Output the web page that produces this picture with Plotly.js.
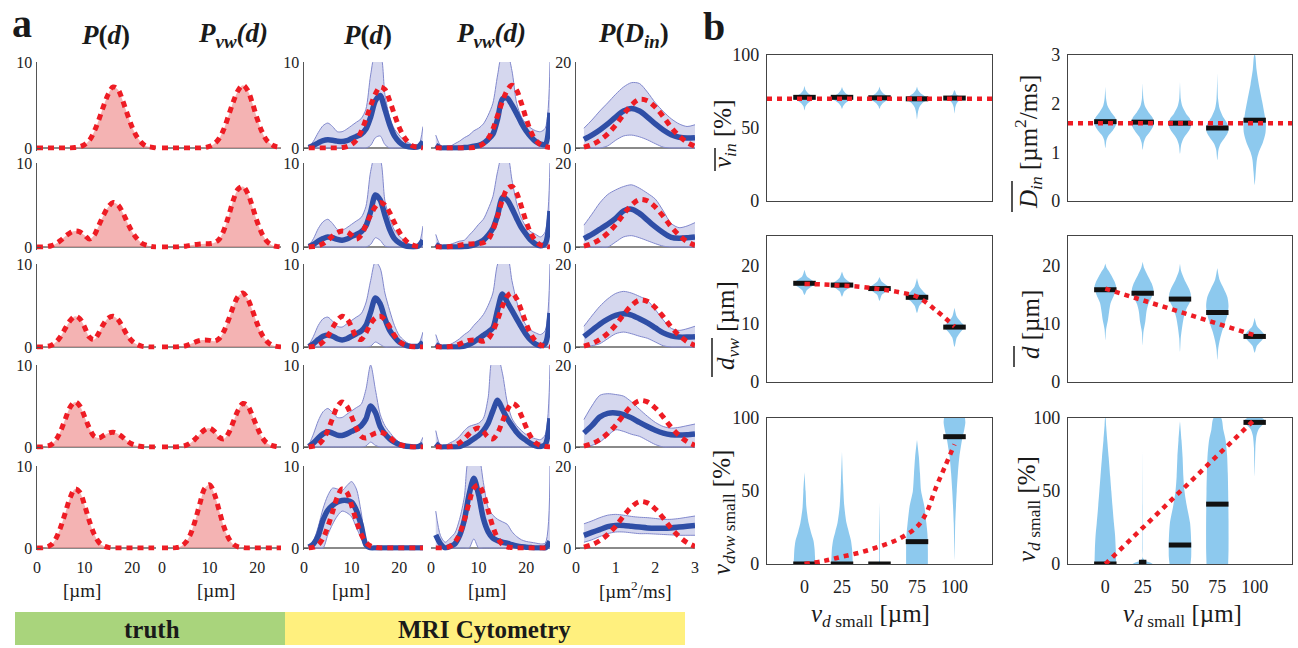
<!DOCTYPE html>
<html><head><meta charset="utf-8">
<script src="https://cdn.plot.ly/plotly-3.0.1.min.js"></script>
<style>html,body{margin:0;padding:0;background:#fff}#chart{width:1298px;height:648px}</style>
</head><body><div id="chart"></div>
<script>
// ======================= DATA =======================
// panel a: grids
const dTruth = [0,1,2,3,4,5,6,7,8,9,10,11,12,13,14,15,16,17,18,19,20,21,22,23,24,25];
const dMRI = [1,2,3,4,5,6,7,8,9,10,11,12,13,14,15,16,17,18,19,20,21,22,23,24,25];
const dDin = [0.2,0.4,0.6,0.8,1.0,1.2,1.4,1.6,1.8,2.0,2.2,2.4,2.6,2.8,3.0];

// truth P(d), rows 1..5 (d = 0..25)
const truthPd = [
 [0,0,0,0,0,0,0,0,0.05,0.15,0.4,0.9,1.9,3.3,4.9,6.3,7.1,6.8,5.5,3.9,2.4,1.3,0.6,0.2,0.1,0],
 [0,0,0.05,0.15,0.4,0.8,1.3,1.7,1.9,1.8,1.4,0.95,1.4,2.6,3.8,4.8,5.3,5.0,4.1,2.9,1.8,1.0,0.45,0.2,0.05,0],
 [0,0,0.05,0.2,0.6,1.3,2.3,3.2,3.7,3.4,2.4,1.2,0.9,1.7,2.8,3.5,3.7,3.3,2.4,1.4,0.7,0.3,0.1,0.03,0,0],
 [0,0,0.1,0.3,0.9,2.0,3.5,4.9,5.5,5.0,3.7,2.3,1.3,1.1,1.4,1.7,1.8,1.6,1.2,0.7,0.35,0.15,0.05,0,0,0],
 [0,0,0.1,0.4,1.2,2.6,4.4,6.2,7.2,6.8,5.2,3.3,1.7,0.7,0.25,0.08,0,0,0,0,0,0,0,0,0,0]
];
// truth Pvw(d)
const truthPvw = [
 [0,0,0,0,0,0,0,0,0,0.05,0.2,0.5,1.1,2.2,3.8,5.4,6.7,7.3,6.7,5.2,3.4,1.9,0.9,0.4,0.15,0.05],
 [0,0,0,0,0.05,0.1,0.2,0.3,0.35,0.4,0.4,0.5,0.9,2.0,3.7,5.6,6.9,7.2,6.4,4.8,3.0,1.6,0.7,0.25,0.08,0],
 [0,0,0,0,0.05,0.15,0.35,0.6,0.8,0.85,0.8,0.7,1.0,1.9,3.3,4.9,6.1,6.5,5.8,4.4,2.8,1.5,0.7,0.25,0.08,0],
 [0,0,0,0,0.05,0.2,0.5,1.0,1.6,2.1,2.3,1.9,1.2,1.0,1.7,3.1,4.5,5.3,5.0,3.8,2.4,1.2,0.5,0.2,0.05,0],
 [0,0,0,0.05,0.2,0.7,1.7,3.4,5.5,7.3,7.7,6.6,4.6,2.6,1.2,0.45,0.15,0.05,0,0,0,0,0,0,0,0]
];
// truth P(Din)
const truthDin = [0.2,0.8,1.8,3.3,5.3,7.8,10.0,11.3,11.0,9.5,7.3,4.8,2.8,1.3,0.4];

// MRI cytometry P(d): mean, upper, lower (d = 1..25)
const mriPdMean = [
 [0.05,0.3,0.6,0.85,0.95,0.9,0.8,0.75,0.85,1.1,1.35,1.6,2.2,3.6,5.5,6.1,4.5,2.7,1.4,0.7,0.3,0.15,0.1,0.15,0.75],
 [0.05,0.3,0.7,1.0,1.2,1.1,0.9,0.8,0.95,1.25,1.5,1.8,2.5,4.2,6.2,5.6,3.8,2.1,1.0,0.5,0.2,0.05,0,0.1,0.8],
 [0.05,0.4,0.9,1.3,1.45,1.3,1.0,0.85,1.0,1.3,1.6,1.9,2.6,4.2,5.9,5.2,3.4,2.0,1.2,0.6,0.3,0.1,0.05,0.1,0.6],
 [0.05,0.5,1.1,1.6,1.85,1.7,1.45,1.4,1.6,1.9,2.2,2.6,3.4,5.0,4.2,2.5,1.6,1.0,0.6,0.3,0.15,0.05,0,0.05,0.3],
 [0.1,0.5,1.5,3.4,4.6,5.2,5.6,5.8,5.8,5.6,4.6,2.8,0.4,0,0,0,0,0,0,0,0,0,0,0,0]
];
const mriPdUpper = [
 [0.1,0.8,1.8,2.6,2.9,2.5,1.9,1.9,2.2,2.6,3.0,3.4,4.5,8.5,11,11,6.2,3.6,2.2,1.5,0.9,0.6,0.3,0.2,2.5],
 [0.1,1.0,2.2,3.0,3.3,2.8,2.1,2.0,2.3,2.7,3.1,3.5,4.8,9,11,10.5,5.5,3.4,2.0,1.3,0.8,0.4,0.2,0.2,2.5],
 [0.2,1.3,2.6,3.4,3.6,3.1,2.5,2.4,2.8,3.2,3.6,4.0,5.3,8,10.3,9.5,6.5,4.4,2.6,1.4,0.8,0.4,0.2,0.3,1.8],
 [0.2,1.6,3.2,4.3,4.7,4.2,3.6,3.6,4.0,4.4,4.8,5.2,7.0,10,7.0,4.0,2.6,1.8,1.1,0.6,0.3,0.2,0.1,0.2,1.2],
 [0.1,0.9,2.6,4.8,6.4,7.3,7.2,7.0,7.6,8.1,7.2,4.4,0.9,0.1,0,0,0,0,0,0,0,0,0,0,0]
];
const mriPdLower = [
 [0,0,0,0,0,0,0,0,0,0,0,0,0,0.3,1.2,1.4,0.4,0,0,0,0,0,0,0,0],
 [0,0,0,0,0,0,0,0,0,0,0,0,0,0.3,1.1,0.8,0.1,0,0,0,0,0,0,0,0],
 [0,0,0,0,0,0,0,0,0,0,0,0,0,0.1,0.6,0.3,0,0,0,0,0,0,0,0,0],
 [0,0,0,0,0,0,0,0,0,0,0,0,0.1,0.6,0.2,0,0,0,0,0,0,0,0,0,0],
 [0,0,0,0,1.6,2.9,3.9,4.5,4.3,3.8,2.5,1.2,0,0,0,0,0,0,0,0,0,0,0,0,0]
];
// MRI cytometry Pvw(d)
const mriPvwMean = [
 [0.3,0,0,0,0,0,0.05,0.1,0.2,0.3,0.55,1.0,1.6,3.4,5.7,5.8,5.0,4.0,2.9,2.0,1.3,0.75,0.45,0.4,4.1],
 [0.3,0,0,0,0,0,0.05,0.1,0.25,0.5,0.8,1.4,2.2,3.8,5.9,5.6,4.6,3.4,2.3,1.5,0.8,0.35,0.15,0.4,4.3],
 [0.3,0,0,0,0,0,0.1,0.3,0.6,1.0,1.4,1.8,2.3,4.5,6.4,5.4,4.4,3.4,2.4,1.5,0.8,0.35,0.15,0.4,4.1],
 [0.4,0,0,0,0,0.05,0.3,0.6,1.0,1.4,2.0,2.9,4.4,5.7,4.6,3.5,2.6,1.8,1.2,0.8,0.4,0.15,0.05,0.3,3.5],
 [1.6,0.5,0,0.2,0.5,1.5,3.4,6.5,8.5,6.5,3.6,2.0,1.2,0.9,0.7,0.6,0.4,0.25,0.15,0.1,0.05,0,0,0,0.8]
];
const mriPvwUpper = [
 [1.5,0.3,0.1,0.2,0.5,0.8,1.2,1.5,2.0,2.3,2.8,3.8,5.2,8.5,11,11,9,5.2,3.6,2.8,2.3,2.0,1.9,2.3,10],
 [1.5,0.2,0.1,0.3,0.5,0.7,0.8,1.4,2.0,2.7,3.3,4.5,6.0,9,11,11,8,5.2,3.4,2.4,1.8,1.5,1.2,1.8,10],
 [1.5,0.2,0.1,0.3,0.6,1.0,1.5,1.9,2.6,3.2,3.9,5.0,6.5,10,11,11,8,5.5,3.7,2.6,2.0,1.7,1.5,2.0,10],
 [2.0,0.2,0.2,0.5,0.8,1.3,2.0,2.5,2.7,2.9,3.5,6,11,11,9,5.5,3.5,2.6,2.0,1.5,1.2,1.0,0.9,1.5,10],
 [4.5,1.5,0.7,1.2,1.8,3.5,6.2,11,11,11,8,4.9,4.0,3.5,3.2,2.9,2.0,1.4,1.0,0.8,0.7,0.6,0.5,0.6,10]
];
const mriPvwLower = [
 [0,0,0,0,0,0,0,0,0,0,0,0,0,0,0,0,0,0,0,0,0,0,0,0,0],
 [0,0,0,0,0,0,0,0,0,0,0,0,0,0,0,0,0,0,0,0,0,0,0,0,0],
 [0,0,0,0,0,0,0,0,0,0,0,0,0,0,0,0,0,0,0,0,0,0,0,0,0],
 [0,0,0,0,0,0,0,0,0,0,0,0,0,0,0,0,0,0,0,0,0,0,0,0,0],
 [0,0,0,0,0,0,0,0,1.1,0,0,0,0,0,0,0,0,0,0,0,0,0,0,0,0]
];
// MRI cytometry P(Din)
const mriDinMean = [
 [2.0,3.0,4.2,5.6,7.2,8.6,9.2,8.6,7.2,5.6,4.2,3.1,2.5,2.3,2.4],
 [2.0,3.0,4.2,5.4,6.8,8.6,9.0,8.0,6.4,4.8,3.4,2.3,2.1,2.2,2.4],
 [2.5,4.0,5.5,6.7,7.6,8.0,7.7,6.8,5.8,4.6,3.4,2.7,2.4,2.4,2.5],
 [3.4,5.2,7.3,8.2,8.3,7.9,7.1,6.0,5.0,4.1,3.4,3.0,2.9,3.0,3.2],
 [3.1,3.8,4.5,5.2,5.5,5.5,5.3,5.1,4.9,4.8,4.8,4.9,5.1,5.3,5.5]
];
const mriDinUpper = [
 [4.6,6.5,8.6,10.5,12.5,14.2,15.2,15.0,13.0,10.5,8.5,6.8,5.6,5.0,5.4],
 [5.2,7.8,10.5,12.5,13.6,14.4,14.8,14.0,12.8,11.4,8.6,5.6,4.6,5.0,5.8],
 [5.0,7.5,9.8,11.6,12.9,13.4,13.0,12.2,11.2,9.0,6.5,4.5,4.0,4.4,5.0],
 [6.7,10,12.6,13.0,12.8,12.4,11.0,9.2,7.5,6.0,5.0,4.6,4.8,5.2,5.6],
 [5.9,6.6,7.4,8.0,8.2,8.0,7.7,7.5,7.4,7.2,7.0,7.0,7.2,7.5,7.8]
];
const mriDinLower = [
 [0,0,0,0.5,1.8,2.8,3.0,2.6,1.9,1.0,0.2,0,0,0,0],
 [0,0,0,0,1.2,2.4,2.7,2.2,1.5,0.8,0.2,0,0,0,0],
 [0,0.3,0.8,2.0,3.2,3.6,3.2,2.6,2.1,1.2,0.3,0,0,0,0],
 [0,0.4,1.2,2.8,4.2,3.8,3.1,2.6,1.6,0.6,0,0,0,0,0],
 [1.4,2.0,2.8,3.5,3.9,3.9,3.7,3.5,3.5,3.4,3.3,3.2,3.1,3.1,3.1]
];

// panel b
const cats = [1,2,3,4,5];
const catLabels = ['0','25','50','75','100'];
const vinMed = [71,71,70.7,70,70.5];
const vinTrueX = [0,6], vinTrueY = [70,70];
const dinMed = [1.63,1.62,1.6,1.5,1.66];
const dinTrueX = [0,6], dinTrueY = [1.6,1.6];
const dvwMed = [16.9,16.6,16.0,14.5,9.4];
const dvwTrueX = [1,1.5,2,2.5,3,3.5,4,4.5,5];
const dvwTrueY = [16.8,16.7,16.5,16.3,15.9,15.4,14.6,12.3,9.5];
const dMed = [15.8,15.2,14.2,11.9,7.8];
const dTrueX = [1,5], dTrueY = [16,8];
const vdvwMed = [0,0,0,15.3,87.2];
const vdvwTrueX = [1,1.5,2,2.5,3,3.5,4,4.25,4.5,4.75,5];
const vdvwTrueY = [0,2,5,8,12,17,25.5,35,52,67,82];
const vdMed = [0,1.2,13,41,97];
const vdTrueX = [1,5], vdTrueY = [0,99];

// violin profiles: levels (y) and half-widths (category units)
const vinVy = [[62,65,67,69,70.5,72,74,76,79],[63,65,67,69,70.5,72,74,76,78],[63,65,67,69,70.5,72,74,76,78.5],[56,60,64,67,70,72,74,76,78.5],[60,64,67,69,70.5,72,73,75,76]];
const vinVw = [[0,0.03,0.09,0.2,0.3,0.2,0.09,0.03,0],[0,0.03,0.09,0.2,0.3,0.2,0.09,0.03,0],[0,0.03,0.09,0.2,0.3,0.2,0.09,0.03,0],[0,0.02,0.06,0.14,0.3,0.2,0.09,0.03,0],[0,0.02,0.06,0.14,0.26,0.12,0.05,0.02,0]];
const dinVy = [[1.09,1.25,1.35,1.45,1.55,1.63,1.72,1.82,1.95,2.1,2.35],[1.05,1.2,1.32,1.43,1.53,1.62,1.72,1.82,1.95,2.1,2.42],[0.97,1.15,1.28,1.4,1.5,1.6,1.7,1.8,1.95,2.1,2.45],[0.84,1.05,1.18,1.3,1.4,1.5,1.6,1.72,1.9,2.1,2.63],[0.33,0.6,0.85,1.0,1.2,1.4,1.6,1.8,2.05,2.4,2.7,3.0]];
const dinVw = [[0,0.03,0.09,0.2,0.28,0.3,0.26,0.16,0.06,0.02,0],[0,0.03,0.09,0.2,0.28,0.3,0.26,0.16,0.06,0.02,0],[0,0.03,0.09,0.2,0.28,0.3,0.26,0.16,0.06,0.02,0],[0,0.03,0.09,0.2,0.28,0.3,0.26,0.16,0.06,0.02,0],[0,0.03,0.06,0.11,0.22,0.29,0.3,0.26,0.2,0.11,0.05,0.01]];
const dvwVy = [[14.9,15.7,16.3,16.9,17.5,18.1,19.2],[14.6,15.5,16.1,16.6,17.2,17.9,18.9],[13.9,14.9,15.5,16.0,16.6,17.2,18.0],[11.8,13.0,13.9,14.6,15.4,16.4,17.8],[6.0,7.6,8.7,9.4,10.2,11.2,12.7]];
const dvwVw = [[0,0.06,0.18,0.3,0.18,0.06,0],[0,0.06,0.18,0.3,0.18,0.06,0],[0,0.06,0.18,0.3,0.18,0.06,0],[0,0.06,0.18,0.3,0.18,0.06,0],[0,0.06,0.18,0.3,0.18,0.06,0]];
const dVy = [[7.2,9,10.6,12,13.5,15,16.3,17.3,18.6,19.5,20.3],[6.3,8.5,10.3,12,13.3,14.7,15.8,16.9,18.3,19.5,20.6],[5.2,7.5,9.5,11,12.5,13.8,15,16,17.5,19,20.3],[3.8,5.5,7,8.5,10,11.5,13,14.5,16,17.5,19.5],[5,6.2,7.2,7.9,8.6,9.6,11]];
const dVw = [[0,0.02,0.07,0.1,0.14,0.24,0.29,0.24,0.13,0.04,0],[0,0.02,0.07,0.1,0.15,0.25,0.29,0.24,0.13,0.04,0],[0,0.02,0.06,0.1,0.17,0.27,0.29,0.24,0.12,0.03,0],[0,0.02,0.06,0.12,0.2,0.27,0.3,0.27,0.17,0.06,0],[0,0.06,0.2,0.28,0.2,0.06,0]];
const vdvwVy = [[0,5,10,16,22,28,39,50,63],[0,5,10,16,22,28,40,55,77],[0,1,3,20,42],[0,10,20,28,39,50,62,73.5,85],[2.7,15,28,40,50,62,73.5,85,92,97,100,104]];
const vdvwVw = [[0.29,0.28,0.27,0.24,0.17,0.11,0.05,0.03,0],[0.29,0.28,0.27,0.24,0.18,0.12,0.06,0.03,0],[0.03,0.015,0.01,0.01,0],[0.29,0.29,0.28,0.25,0.2,0.11,0.08,0.05,0],[0,0.01,0.02,0.04,0.06,0.09,0.13,0.2,0.26,0.29,0.28,0.26]];
const vdVy = [[0,10,20,28,40,50,60,73,85,95,100],[0,1,2,4,10,40,77],[0,5,15,28,40,50,60,73,85,98],[0,10,30,50,62,75,85,92,100],[60,70,80,88,92,95,97,98.5,100]];
const vdVw = [[0.29,0.28,0.26,0.23,0.19,0.16,0.13,0.09,0.05,0.02,0.005],[0.27,0.2,0.08,0.01,0.006,0.005,0],[0.28,0.3,0.3,0.27,0.18,0.12,0.09,0.07,0.04,0],[0.29,0.3,0.3,0.29,0.28,0.26,0.22,0.16,0.1],[0,0.01,0.02,0.05,0.1,0.2,0.28,0.27,0.2]];

// ======================= DRAWING =======================
const W = 1298, H = 648;
const FONT = 'Liberation Serif';
const RED = '#ee1c24', BLUE = '#2f4ea6', BAND = 'rgba(178,182,224,0.55)', BANDLINE = '#8188cc';
const PINK = 'rgba(240,150,150,0.72)', VIOLIN = '#8dc9ee', TXT = '#1a1a1a';

const layout = {
  width: W, height: H, margin: {l:0, r:0, t:0, b:0},
  paper_bgcolor: '#ffffff', plot_bgcolor: 'rgba(0,0,0,0)', showlegend: false,
  font: {family: FONT, color: TXT}, shapes: [], annotations: []
};
const traces = [];
let nAx = 0;
function addAxes(x0, x1, yTop, yBot, xo, yo) {
  nAx++;
  const s = nAx === 1 ? '' : String(nAx);
  layout['xaxis' + s] = Object.assign({domain: [x0 / W, x1 / W], anchor: 'y' + s, showgrid: false, zeroline: false, fixedrange: true}, xo);
  layout['yaxis' + s] = Object.assign({domain: [1 - yBot / H, 1 - yTop / H], anchor: 'x' + s, showgrid: false, zeroline: false, fixedrange: true}, yo);
  return {xaxis: 'x' + s, yaxis: 'y' + s};
}
function ann(text, px, py, size, extra) {
  layout.annotations.push(Object.assign({text: text, x: px / W, y: 1 - py / H, xref: 'paper', yref: 'paper',
    showarrow: false, xanchor: 'center', yanchor: 'middle', font: {size: size, family: FONT, color: TXT}}, extra || {}));
}
function pline(x0, y0, x1, y1, w) {
  layout.shapes.push({type: 'line', xref: 'paper', yref: 'paper', x0: x0 / W, x1: x1 / W, y0: 1 - y0 / H, y1: 1 - y1 / H, line: {color: TXT, width: w}});
}
function redLine(ax, x, y, w, dash, shape) {
  traces.push({type: 'scatter', mode: 'lines', x: x, y: y, xaxis: ax.xaxis, yaxis: ax.yaxis, hoverinfo: 'skip',
    line: {color: RED, width: w, dash: dash, shape: shape || 'spline', smoothing: 1}});
}

// ---------- panel a ----------
const colX = [[37,156],[162,281],[304,423],[431,550],[576,695]];
const rowY = [[62,148],[163,247],[264,347],[365,447],[466,548]];
const tickFontA = {size: 16, family: FONT, color: '#222'};
for (let r = 0; r < 5; r++) {
  for (let c = 0; c < 5; c++) {
    const isD = c === 4;
    const ymax = isD ? 20 : 10, ymin = -0.03 * ymax;
    const top = rowY[r][0], bot = rowY[r][1];
    const ppu = (bot - top) / ymax;
    const domBot = bot + (-ymin) * ppu;
    const showY = c % 2 === 0;
    const ax = addAxes(colX[c][0], colX[c][1], top, domBot, {
      range: isD ? [0, 3] : [0, 25], showline: false, ticks: '', showticklabels: r === 4,
      tickmode: 'array', tickvals: isD ? [0,1,2,3] : [0,10,20], tickfont: tickFontA, ticklabelstandoff: 6
    }, {
      range: [ymin, ymax], zeroline: true, zerolinecolor: '#8a8a8a', zerolinewidth: 1.5,
      showline: showY, linecolor: '#555', linewidth: 1.5, ticks: showY ? 'inside' : '', ticklen: 4, tickcolor: '#555',
      tickmode: 'array', tickvals: [0, ymax], showticklabels: showY, tickfont: tickFontA
    });
    if (c < 2) {
      const y = c === 0 ? truthPd[r] : truthPvw[r];
      traces.push({type: 'scatter', mode: 'lines', x: dTruth, y: y, xaxis: ax.xaxis, yaxis: ax.yaxis, hoverinfo: 'skip',
        fill: 'tozeroy', fillcolor: PINK, line: {width: 0, shape: 'spline', smoothing: 1}});
      redLine(ax, dTruth, y, 5, '6px,5px');
    } else {
      let x, lo, up, mean, tr;
      if (c === 2) { x = dMRI; lo = mriPdLower[r]; up = mriPdUpper[r]; mean = mriPdMean[r]; tr = truthPd[r].slice(1); }
      else if (c === 3) { x = dMRI; lo = mriPvwLower[r]; up = mriPvwUpper[r]; mean = mriPvwMean[r]; tr = truthPvw[r].slice(1); }
      else { x = dDin; lo = mriDinLower[r]; up = mriDinUpper[r]; mean = mriDinMean[r]; tr = truthDin; }
      traces.push({type: 'scatter', mode: 'lines', x: x, y: lo, xaxis: ax.xaxis, yaxis: ax.yaxis, hoverinfo: 'skip',
        line: {color: BANDLINE, width: 1, shape: 'spline', smoothing: 0.8}});
      traces.push({type: 'scatter', mode: 'lines', x: x, y: up, xaxis: ax.xaxis, yaxis: ax.yaxis, hoverinfo: 'skip',
        fill: 'tonexty', fillcolor: BAND, line: {color: BANDLINE, width: 1, shape: 'spline', smoothing: 0.8}});
      traces.push({type: 'scatter', mode: 'lines', x: x, y: mean, xaxis: ax.xaxis, yaxis: ax.yaxis, hoverinfo: 'skip',
        line: {color: BLUE, width: 5.5, shape: 'spline', smoothing: 0.8}});
      redLine(ax, x, tr, 5, '6px,5px');
    }
  }
}

// ---------- panel b ----------
const colB = [[767,992],[1068,1292]];
const rowB = [[55,201],[236,382],[418,564]];
const tickFontB = {size: 18, family: FONT, color: '#222'};
const bPanels = [
  {c:0, r:0, range:[0,100], tv:[0,50,100], vy:vinVy, vw:vinVw, med:vinMed, tx:vinTrueX, ty:vinTrueY, shape:'linear'},
  {c:1, r:0, range:[0,3], tv:[0,1,2,3], vy:dinVy, vw:dinVw, med:dinMed, tx:dinTrueX, ty:dinTrueY, shape:'linear'},
  {c:0, r:1, range:[0,25], tv:[0,10,20], vy:dvwVy, vw:dvwVw, med:dvwMed, tx:dvwTrueX, ty:dvwTrueY, shape:'spline'},
  {c:1, r:1, range:[0,25], tv:[0,10,20], vy:dVy, vw:dVw, med:dMed, tx:dTrueX, ty:dTrueY, shape:'linear'},
  {c:0, r:2, range:[0,100], tv:[0,50,100], vy:vdvwVy, vw:vdvwVw, med:vdvwMed, tx:vdvwTrueX, ty:vdvwTrueY, shape:'spline'},
  {c:1, r:2, range:[0,100], tv:[0,50,100], vy:vdVy, vw:vdVw, med:vdMed, tx:vdTrueX, ty:vdTrueY, shape:'linear'}
];
bPanels.forEach(function (p, k) {
  const ax = addAxes(colB[p.c][0], colB[p.c][1], rowB[p.r][0], rowB[p.r][1], {
    range: [0, 6], showline: true, mirror: true, linecolor: '#444', linewidth: 1.2, ticks: '',
    tickmode: 'array', tickvals: cats, ticktext: catLabels, showticklabels: p.r === 2, tickfont: tickFontB, ticklabelstandoff: 6
  }, {
    range: p.range, showline: true, mirror: true, linecolor: '#444', linewidth: 1.2, ticks: '',
    tickmode: 'array', tickvals: p.tv, tickfont: tickFontB, ticklabelstandoff: 3
  });
  cats.forEach(function (cat, i) {
    const ys = p.vy[i], ws = p.vw[i], xs = [], yy = [];
    for (let j = 0; j < ys.length; j++) { xs.push(cat + ws[j]); yy.push(ys[j]); }
    for (let j = ys.length - 1; j >= 0; j--) { xs.push(cat - ws[j]); yy.push(ys[j]); }
    traces.push({type: 'scatter', mode: 'lines', x: xs, y: yy, xaxis: ax.xaxis, yaxis: ax.yaxis, hoverinfo: 'skip',
      fill: 'toself', fillcolor: VIOLIN, line: {width: 0, shape: 'spline', smoothing: 0.7}});
  });
  // median bars as short horizontal segments
  const mx = [], my = [];
  cats.forEach(function (cat, i) {
    const hw = (k === 5 && i === 1) ? 0.1 : 0.3;
    mx.push(cat - hw, cat + hw, null); my.push(p.med[i], p.med[i], null);
  });
  traces.push({type: 'scatter', mode: 'lines', x: mx, y: my, xaxis: ax.xaxis, yaxis: ax.yaxis, hoverinfo: 'skip',
    connectgaps: false, line: {color: '#111111', width: 5}});
  redLine(ax, p.tx, p.ty, 4.5, '5px,5px', p.shape);
});

// ---------- text ----------
ann('<b>a</b>', 22, 24, 40);
ann('<b>b</b>', 714, 27, 40);
ann('<b><i>P</i>(<i>d</i>)</b>', 105, 35, 27);
ann('<b><i>P<sub>vw</sub>(d)</i></b>', 233, 35, 27);
ann('<b><i>P</i>(<i>d</i>)</b>', 367, 35, 27);
ann('<b><i>P<sub>vw</sub>(d)</i></b>', 491, 35, 27);
ann('<b><i>P</i>(<i>D<sub>in</sub></i>)</b>', 633, 35, 27);
ann('[µm]', 82, 590, 19);
ann('[µm]', 216, 590, 19);
ann('[µm]', 351, 590, 19);
ann('[µm]', 487, 590, 19);
ann('[µm<sup>2</sup>/ms]', 635, 590, 19);

layout.shapes.push({type: 'rect', xref: 'paper', yref: 'paper', x0: 15 / W, x1: 285 / W, y0: 1 - 645 / H, y1: 1 - 612 / H, fillcolor: '#a9d47c', line: {width: 0}, layer: 'below'});
layout.shapes.push({type: 'rect', xref: 'paper', yref: 'paper', x0: 285 / W, x1: 685 / W, y0: 1 - 645 / H, y1: 1 - 612 / H, fillcolor: '#fff07e', line: {width: 0}, layer: 'below'});
ann('<b>truth</b>', 152, 629, 25);
ann('<b>MRI Cytometry</b>', 484, 629, 25);

// rotated y titles of panel b (overlines drawn as separate short lines)
ann('<i>v<sub>in</sub></i> [%]', 724, 134, 25, {textangle: -90});
ann('<i>D<sub>in</sub></i> [µm<sup>2</sup>/ms]', 1028, 142, 25, {textangle: -90});
ann('<i>d<sub>vw</sub></i> [µm]', 727, 326, 25, {textangle: -90});
ann('<i>d</i> [µm]', 1030, 325, 25, {textangle: -90});
ann('<i>v</i><sub><i>dvw</i> small</sub> [%]', 723, 513, 25, {textangle: -90});
ann('<i>v</i><sub><i>d</i> small</sub> [%]', 1028, 509, 25, {textangle: -90});
ann('<i>v</i><sub><i>d</i> small</sub> [µm]', 870, 615, 25);
ann('<i>v</i><sub><i>d</i> small</sub> [µm]', 1182, 615, 25);
pline(715, 148, 715, 171, 1.5);
pline(1012, 181, 1012, 212, 1.5);
pline(712, 338, 712, 377, 1.5);
pline(1014, 346, 1014, 367, 1.5);

Plotly.newPlot('chart', traces, layout, {staticPlot: true, displayModeBar: false});
</script>
</body></html>
